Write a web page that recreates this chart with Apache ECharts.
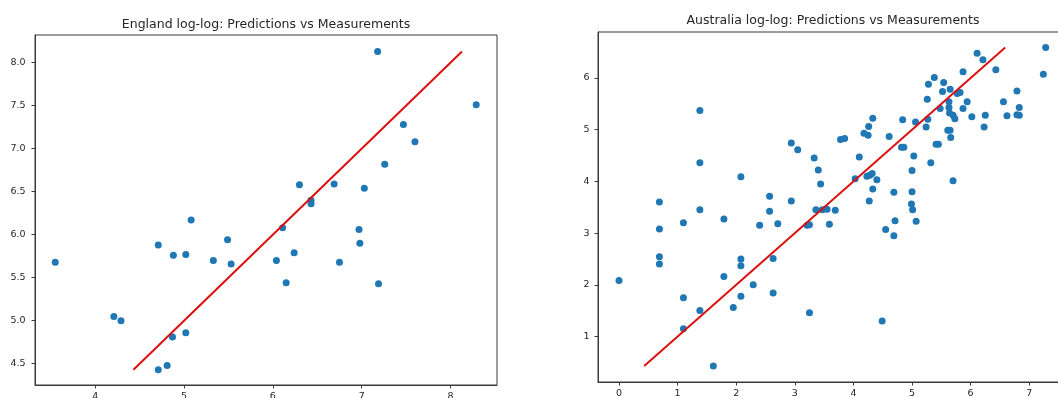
<!DOCTYPE html>
<html>
<head>
<meta charset="utf-8">
<script src="https://cdn.jsdelivr.net/npm/echarts@6/dist/echarts.min.js"></script>
<style>
  html, body { margin: 0; padding: 0; background: #fff; }
  #main { width: 1058px; height: 398px; }
</style>
</head>
<body>
<div id="main"></div>
<script>
  var englandTitle = 'England log-log: Predictions vs Measurements';
  var australiaTitle = 'Australia log-log: Predictions vs Measurements';

  var englandPoints = [
    [3.55, 5.68], [4.21, 5.05], [4.29, 5.00], [4.71, 4.43], [4.81, 4.48],
    [4.87, 4.81], [5.02, 4.86], [4.71, 5.88], [4.88, 5.76], [5.02, 5.77],
    [5.08, 6.17], [5.33, 5.70], [5.49, 5.94], [5.53, 5.66], [6.04, 5.70],
    [6.11, 6.08], [6.15, 5.44], [6.24, 5.79], [6.30, 6.58], [6.43, 6.40],
    [6.43, 6.36], [6.69, 6.59], [6.75, 5.68], [6.97, 6.06], [6.98, 5.90],
    [7.03, 6.54], [7.18, 8.13], [7.19, 5.43], [7.26, 6.82], [7.47, 7.28],
    [7.60, 7.08], [8.29, 7.51]
  ];
  var englandLine = [[4.43, 4.43], [8.13, 8.13]];

  var australiaPoints = [
    [0.00, 2.08], [0.69, 3.60], [0.69, 3.08], [0.69, 2.54], [0.69, 2.40],
    [1.10, 3.20], [1.10, 1.75], [1.10, 1.15], [1.38, 5.37], [1.38, 4.36],
    [1.38, 3.45], [1.38, 1.50], [1.61, 0.43], [1.79, 3.27], [1.79, 2.16],
    [1.95, 1.56], [2.08, 4.09], [2.08, 2.50], [2.08, 2.37], [2.08, 1.78],
    [2.29, 2.00], [2.40, 3.15], [2.57, 3.71], [2.57, 3.42], [2.63, 2.51],
    [2.63, 1.84], [2.71, 3.18], [2.94, 4.74], [2.94, 3.62], [3.05, 4.61],
    [3.21, 3.15], [3.25, 3.16], [3.25, 1.46], [3.33, 4.45], [3.40, 4.22],
    [3.44, 3.95], [3.36, 3.45], [3.47, 3.45], [3.55, 3.46], [3.59, 3.17],
    [3.69, 3.44], [3.78, 4.81], [3.85, 4.83], [4.03, 4.05], [4.10, 4.47],
    [4.18, 4.93], [4.25, 4.89], [4.26, 5.06], [4.33, 5.22], [4.23, 4.10],
    [4.28, 4.12], [4.32, 4.15], [4.40, 4.03], [4.33, 3.85], [4.27, 3.62],
    [4.49, 1.30], [4.55, 3.07], [4.69, 2.95], [4.71, 3.24], [4.69, 3.79],
    [4.61, 4.87], [4.82, 4.66], [4.86, 4.66], [4.84, 5.19], [4.99, 3.56],
    [5.01, 3.45], [5.07, 3.23], [5.00, 3.80], [5.00, 4.21], [5.03, 4.49],
    [5.06, 5.15], [5.24, 5.05], [5.27, 5.20], [5.26, 5.59], [5.28, 5.88],
    [5.32, 4.36], [5.38, 6.01], [5.41, 4.72], [5.45, 4.72], [5.48, 5.41],
    [5.52, 5.74], [5.54, 5.91], [5.61, 4.99], [5.65, 4.99], [5.66, 4.85],
    [5.65, 5.78], [5.63, 5.54], [5.63, 5.43], [5.64, 5.32], [5.70, 5.28],
    [5.73, 5.21], [5.70, 4.01], [5.77, 5.70], [5.82, 5.72], [5.87, 6.12],
    [5.87, 5.41], [5.94, 5.54], [6.02, 5.25], [6.11, 6.48], [6.21, 6.35],
    [6.23, 5.05], [6.25, 5.28], [6.43, 6.16], [6.56, 5.54], [6.62, 5.27],
    [6.79, 5.75], [6.83, 5.43], [6.79, 5.29], [6.83, 5.28], [7.24, 6.07],
    [7.28, 6.59]
  ];
  var australiaLine = [[0.43, 0.43], [6.59, 6.59]];

  var englandXTicks = [4, 5, 6, 7, 8];
  var englandYTicks = [4.5, 5.0, 5.5, 6.0, 6.5, 7.0, 7.5, 8.0];
  var australiaXTicks = [0, 1, 2, 3, 4, 5, 6, 7];
  var australiaYTicks = [1, 2, 3, 4, 5, 6];

  var font = 'DejaVu Sans';
  var spine = '#3a3a3a';

  function makeAxis(idx, lo, hi, ticks, digits, gap) {
    return {
      type: 'value',
      gridIndex: idx,
      min: lo,
      max: hi,
      splitLine: { show: false },
      axisLine: { show: true, onZero: false, lineStyle: { color: spine, width: 1 } },
      axisTick: { show: true, length: 3.5, customValues: ticks, lineStyle: { color: spine } },
      axisLabel: {
        customValues: ticks,
        margin: gap,
        color: '#262626',
        fontFamily: font,
        fontSize: 9.5,
        formatter: function (v) { return v.toFixed(digits); }
      }
    };
  }

  var chart = echarts.init(document.getElementById('main'), null, { renderer: 'canvas' });

  var option = {
    animation: false,
    backgroundColor: '#fff',
    title: [
      { text: englandTitle, left: 266, top: 18.5, padding: 0, textAlign: 'center',
        textStyle: { fontFamily: font, fontSize: 12.5, fontWeight: 'normal', color: '#262626' } },
      { text: australiaTitle, left: 833, top: 14, padding: 0, textAlign: 'center',
        textStyle: { fontFamily: font, fontSize: 12.5, fontWeight: 'normal', color: '#262626' } }
    ],
    // plots run past the picture edge, so keep the grid from shrinking
    grid: [
      { left: 35, top: 35, width: 462, height: 350, outerBoundsMode: 'none',
        show: true, borderColor: spine, borderWidth: 1 },
      { left: 598, top: 32, width: 469, height: 350, outerBoundsMode: 'none',
        show: true, borderColor: spine, borderWidth: 1 }
    ],
    xAxis: [
      makeAxis(0, 3.322, 8.524, englandXTicks, 0, 7),
      makeAxis(1, -0.358, 7.644, australiaXTicks, 0, 7)
    ],
    yAxis: [
      makeAxis(0, 4.252, 8.322, englandYTicks, 1, 9.5),
      makeAxis(1, 0.119, 6.889, australiaYTicks, 0, 8.5)
    ],
    series: [
      {
        type: 'scatter', xAxisIndex: 0, yAxisIndex: 0,
        data: englandPoints, symbolSize: 7,
        itemStyle: { color: '#1f77b4', opacity: 1 }
      },
      {
        type: 'line', xAxisIndex: 0, yAxisIndex: 0, z: 5,
        data: englandLine, showSymbol: false,
        lineStyle: { color: '#dd1010', width: 2 }
      },
      {
        type: 'scatter', xAxisIndex: 1, yAxisIndex: 1,
        data: australiaPoints, symbolSize: 7,
        itemStyle: { color: '#1f77b4', opacity: 1 }
      },
      {
        type: 'line', xAxisIndex: 1, yAxisIndex: 1, z: 5,
        data: australiaLine, showSymbol: false,
        lineStyle: { color: '#dd1010', width: 2 }
      }
    ]
  };

  chart.setOption(option);
</script>
</body>
</html>
